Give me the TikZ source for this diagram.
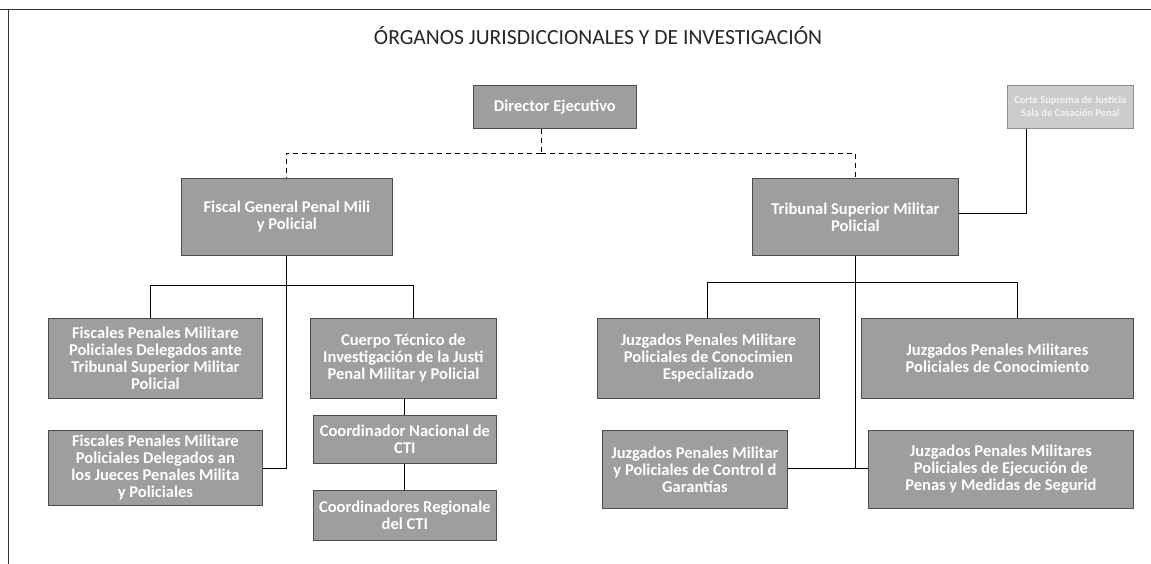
\documentclass[tikz,border=0pt]{standalone}
\usepackage{fontspec}
\setmainfont{Carlito}
\begin{document}
\begin{tikzpicture}[x=1pt,y=-1pt,
  boxst/.style={draw=black!70,fill=black!38,line width=0.8pt,inner sep=0pt,anchor=north west},
  lightbox/.style={draw=black!45,fill=black!20,line width=0.6pt,inner sep=0pt,anchor=north west},
  txtst/.style={text=white,font=\fontsize{16.5}{17}\selectfont\bfseries,align=center,inner sep=0pt},
  lighttxt/.style={text=black!5,font=\fontsize{10.5}{13}\selectfont\bfseries,align=center,inner sep=0pt},
  conn/.style={draw=black,line width=0.9pt},
  dconn/.style={draw=black,line width=0.9pt,dash pattern=on 5pt off 4pt}]
\newcommand{\orgbox}[6][boxst]{%
  \node[#1,minimum width=#4pt,minimum height=#5pt] (#2) at #3 {};
  \node[txtst] (#2-t) at (#2.center) {#6};}
\useasboundingbox (0,0) rectangle (1151,564);
% frame
\coordinate (f1) at (0,10); \coordinate (f2) at (1151,10);
\coordinate (f3) at (8,10); \coordinate (f4) at (8,564);
\draw[draw=black!80,line width=1pt] (f1) -- (f2);
\draw[draw=black!80,line width=1pt] (f3) -- (f4);
\node[font=\fontsize{21.6}{24}\selectfont,text=black!85] (title) at (598,36) {ÓRGANOS JURISDICCIONALES Y DE INVESTIGACIÓN};

\orgbox{dir}{(473,85)}{163}{43}{Director Ejecutivo}
\node[lightbox,minimum width=126pt,minimum height=43pt] (corte) at (1007,85) {};
\node[lighttxt] (corte-t) at (corte.center) {Corte Suprema de Justicia\\Sala de Casación Penal};

\orgbox{fg}{(181,178)}{211}{77}{Fiscal General Penal Mili\\y Policial}
\orgbox{tsm}{(752,178)}{206}{77}{Tribunal Superior Militar\\Policial}

\orgbox{l1}{(48,318)}{214}{80}{Fiscales Penales Militare\\Policiales Delegados ante\\Tribunal Superior Militar\\Policial}
\orgbox{l2}{(48,430)}{214}{75}{Fiscales Penales Militare\\Policiales Delegados an\\los Jueces Penales Milita\\y Policiales}
\orgbox{cti}{(310,318)}{186}{80}{Cuerpo Técnico de\\Investigación de la Justi\\Penal Militar y Policial}
\orgbox{cn}{(313,415)}{183}{48}{Coordinador Nacional de\\CTI}
\orgbox{cr}{(313,490)}{183}{50}{Coordinadores Regionale\\del CTI}

\orgbox{r1}{(597,318)}{222}{80}{Juzgados Penales Militare\\Policiales de Conocimien\\Especializado}
\orgbox{r2}{(861,318)}{272}{80}{Juzgados Penales Militares\\Policiales de Conocimiento}
\orgbox{r3}{(602,430)}{185}{78}{Juzgados Penales Militar\\y Policiales de Control d\\Garantías}
\orgbox{r4}{(868,430)}{265}{78}{Juzgados Penales Militares\\Policiales de Ejecución de\\Penas y Medidas de Segurid}

% dashed connectors
\coordinate (dj) at (541,153);
\draw[dconn] (dir.south -| dj) -- (dj);
\draw[dconn] (dj) -- (286,153) -- (fg.north -| 286,0);
\draw[dconn] (dj) -- (855,153) -- (tsm.north -| 855,0);
% corte
\draw[conn] (corte.south -| 1026,0) -- (1026,213) -- (tsm.east |- 0,213);
% fiscal branch
\coordinate (fb) at (286,285);
\draw[conn] (fg.south -| fb) -- (286,468) -- (l2.east |- 0,468);
\draw[conn] (150,285) -- (413,285);
\draw[conn] (150,285) -- (l1.north -| 150,0);
\draw[conn] (413,285) -- (cti.north -| 413,0);
\draw[conn] (cti.south -| 404,0) -- (cn.north -| 404,0);
\draw[conn] (cn.south -| 404,0) -- (cr.north -| 404,0);
% tribunal branch
\draw[conn] (tsm.south -| 855,0) -- (855,468);
\draw[conn] (707,282) -- (1017,282);
\draw[conn] (707,282) -- (r1.north -| 707,0);
\draw[conn] (1017,282) -- (r2.north -| 1017,0);
\draw[conn] (r3.east |- 0,468) -- (r4.west |- 0,468);
\end{tikzpicture}
\end{document}
